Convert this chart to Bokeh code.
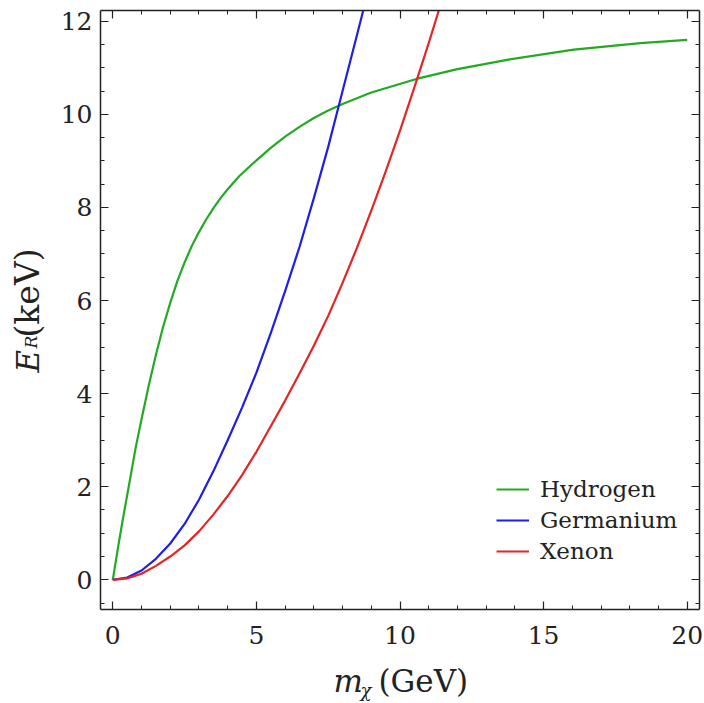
import math
from bokeh.plotting import figure
from bokeh.models import (Range1d, LinearAxis, SingleIntervalTicker, Label,
                          Legend, LegendItem)
from bokeh.embed import file_html
from bokeh.resources import INLINE

# ---- data ----
hydrogen_m = [0, 0.1, 0.2, 0.35, 0.56, 0.8, 1.0, 1.25, 1.5, 1.75, 2.0, 2.25, 2.5, 2.75,
              3.0, 3.25, 3.5, 3.75, 4.0, 4.4, 4.8, 5.5, 6.0, 6.5, 7.0, 7.5, 8.0, 9.0,
              10.57, 12.0, 13.73, 16.05, 18.37, 20.0]
hydrogen_E = [0, 0.38, 0.76, 1.3, 2.02, 2.85, 3.45, 4.17, 4.83, 5.43, 5.95, 6.42, 6.82, 7.17,
              7.47, 7.74, 7.98, 8.2, 8.39, 8.67, 8.9, 9.28, 9.52, 9.73, 9.92, 10.08, 10.22, 10.47,
              10.76, 10.97, 11.17, 11.39, 11.53, 11.60]

germanium_m = [0, 0.5, 1.0, 1.5, 2.0, 2.5, 3.0, 3.5, 4.0, 4.5, 5.0, 5.5, 6.0, 6.5,
               7.0, 7.5, 8.0, 8.5, 8.72]
germanium_E = [0, 0.05, 0.2, 0.45, 0.78, 1.2, 1.72, 2.33, 3.0, 3.7, 4.45, 5.3, 6.2, 7.15,
               8.2, 9.3, 10.5, 11.7, 12.23]

xenon_m = [0, 0.5, 1.0, 1.5, 2.0, 2.5, 3.0, 3.5, 4.0, 4.5, 5.0, 5.5, 6.0, 6.5, 7.0, 7.5,
           8.0, 8.5, 9.0, 9.5, 10.0, 10.5, 11.0, 11.35]
xenon_E = [0, 0.03, 0.13, 0.3, 0.5, 0.74, 1.04, 1.4, 1.8, 2.25, 2.75, 3.3, 3.85, 4.43,
           5.03, 5.67, 6.38, 7.13, 7.93, 8.77, 9.65, 10.58, 11.53, 12.23]

series_names = ["Hydrogen", "Germanium", "Xenon"]
series_colors = ["#22aa22", "#1e1ee6", "#e52525"]

# visible frame of the chart (data units)
X_LO, X_HI = -0.428, 20.42
Y_LO, Y_HI = -0.644, 12.23

FONT = "DejaVu Serif"
INK = "#222222"

p = figure(width=704, height=703, output_backend="svg", toolbar_location=None,
           x_range=Range1d(-3.910, 20.602), y_range=Range1d(-2.657, 12.445),
           x_axis_type=None, y_axis_type=None,
           min_border_left=0, min_border_right=0, min_border_top=0,
           min_border_bottom=0)
p.outline_line_color = None
p.background_fill_color = "white"
p.border_fill_color = "white"


def make_axis(interval, n_minor, labels, loc, bounds):
    ax = LinearAxis(ticker=SingleIntervalTicker(interval=interval, num_minor_ticks=n_minor),
                    fixed_location=loc, bounds=bounds)
    ax.axis_line_color = INK
    ax.axis_line_width = 1.5
    ax.major_tick_in = 8
    ax.major_tick_out = 0
    ax.minor_tick_in = 4
    ax.minor_tick_out = 0
    ax.major_tick_line_color = INK
    ax.minor_tick_line_color = INK
    ax.major_tick_line_width = 1.2
    ax.minor_tick_line_width = 1.0
    if labels:
        ax.major_label_text_font = FONT
        ax.major_label_text_font_size = "25px"
        ax.major_label_text_color = INK
    else:
        ax.major_label_text_color = None
        ax.major_label_text_font_size = "1px"
        ax.major_label_standoff = 0
    return ax


bottom = make_axis(5, 5, True, Y_LO, (X_LO, X_HI))
bottom.major_label_standoff = 16
left = make_axis(2, 4, True, X_LO, (Y_LO, Y_HI))
left.major_label_standoff = 8
top = make_axis(5, 5, False, Y_HI, (X_LO, X_HI))
right = make_axis(2, 4, False, X_HI, (Y_LO, Y_HI))
p.add_layout(bottom, "below")
p.add_layout(left, "left")
p.add_layout(top, "above")
p.add_layout(right, "right")

renderers = []
for mm, ee, col in zip([hydrogen_m, germanium_m, xenon_m],
                       [hydrogen_E, germanium_E, xenon_E], series_colors):
    r = p.line(mm, ee, line_color=col, line_width=2.2, line_join="round")
    renderers.append(r)

legend = Legend(items=[LegendItem(label=n, renderers=[r]) for n, r in zip(series_names, renderers)],
                location=(496, 139))
legend.border_line_color = None
legend.background_fill_color = "white"
legend.background_fill_alpha = 1.0
legend.glyph_width = 33
legend.glyph_height = 22
legend.label_height = 22
legend.label_standoff = 11
legend.spacing = 5
legend.padding = 10
legend.margin = 0
legend.label_text_font = FONT
legend.label_text_font_size = "23px"
legend.label_text_color = INK
p.add_layout(legend)

# axis titles built from pieces (subscripts); screen units from canvas bottom-left
def lab(x, y, text, size, style="normal", angle=0.0):
    return Label(x=x, y=y, x_units="screen", y_units="screen", text=text,
                 text_font=FONT, text_font_size=size, text_font_style=style,
                 text_color=INK, text_align="left", text_baseline="alphabetic",
                 angle=angle)

p.add_layout(lab(333, 23, "m", "31px", "italic"))
p.add_layout(lab(360, 13, "χ", "18px", "italic"))
p.add_layout(lab(378, 23, "(GeV)", "31px"))

p.add_layout(lab(27, 331, "E", "31px", "italic", math.pi / 2))
p.add_layout(lab(30, 355, "R", "17px", "italic", math.pi / 2))
p.add_layout(lab(27, 366, "(keV)", "33px", "normal", math.pi / 2))

open("out.html", "w").write(file_html(p, INLINE))
